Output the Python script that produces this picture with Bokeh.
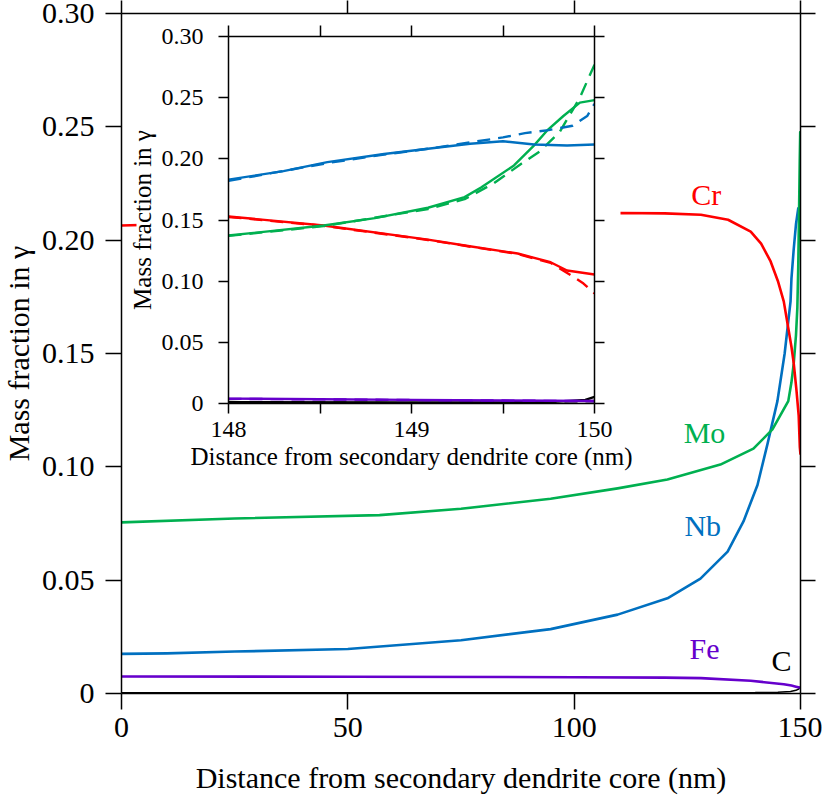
from bokeh.plotting import figure
from bokeh.models import (Range1d, LinearAxis, FixedTicker, BoxAnnotation,
                          PrintfTickFormatter, Label)
from bokeh.embed import file_html
from bokeh.resources import INLINE

FONT = "Liberation Serif"

# ---------------- main plot data (0-150 nm) ----------------
cr_x = [0, 20, 40, 60, 80, 100, 110, 120, 128, 134, 139, 141.3, 143.4, 145, 146.3, 148, 148.5, 149.1,
        149.6, 149.85, 150]
cr_y = [0.2065, 0.2075, 0.2085, 0.2095, 0.2105, 0.2115, 0.212, 0.2118, 0.2112, 0.209, 0.2038, 0.1985,
        0.1906, 0.182, 0.173, 0.153, 0.1458, 0.134, 0.1226, 0.1087, 0.1054]

mo_x = [0, 25, 57, 75, 94.8, 109.6, 120.6, 132.3, 139.6, 143.8, 147.3, 148, 148.5, 149, 149.3, 149.5,
        149.67, 149.83, 149.94, 150]
mo_y = [0.0755, 0.0772, 0.0787, 0.0815, 0.0859, 0.0905, 0.0944, 0.101, 0.108, 0.1165, 0.129, 0.1373,
        0.1455, 0.158, 0.170, 0.188, 0.211, 0.235, 0.2477, 0.248]

nb_x = [0, 10, 25, 50, 75, 94.8, 109.6, 120.6, 127.9, 133.9, 137.4, 140.5, 142.7, 144.9, 146.5, 147.8,
        148, 148.5, 149, 149.5, 149.7, 150]
nb_y = [0.0175, 0.0177, 0.0185, 0.0196, 0.0235, 0.0284, 0.0348, 0.042, 0.0507, 0.0626, 0.0759, 0.092,
        0.110, 0.129, 0.150, 0.173, 0.183, 0.196, 0.207, 0.214, 0.2117, 0.212]

fe_x = [0, 50, 100, 120, 128, 139, 146.3, 148, 149, 149.8, 150]
fe_y = [0.0075, 0.0074, 0.0072, 0.0070, 0.0068, 0.0056, 0.0041, 0.0035, 0.0030, 0.0026, 0.0025]

c_x = [0, 100, 130, 140, 145, 147.8, 149, 149.6, 150]
c_y = [0.0003, 0.0003, 0.0003, 0.0004, 0.0006, 0.0009, 0.0014, 0.0020, 0.0028]

# ---------------- inset data (148-150 nm) ----------------
i_nb_x = [148, 148.3, 148.54, 148.85, 149.09, 149.32, 149.5, 149.67, 149.85, 150]
i_nb_y = [0.183, 0.190, 0.1973, 0.204, 0.2082, 0.2123, 0.2144, 0.2117, 0.2109, 0.2117]
i_nb_dx = [148, 148.54, 148.85, 149.09, 149.32, 149.5, 149.62, 149.75, 149.88, 149.96, 150]
i_nb_dy = [0.182, 0.1965, 0.2035, 0.2082, 0.2135, 0.2175, 0.221, 0.2235, 0.227, 0.235, 0.245]

i_mo_x = [148, 148.52, 148.8, 149.09, 149.29, 149.38, 149.56, 149.67, 149.74, 149.83, 149.92, 150]
i_mo_y = [0.1373, 0.1455, 0.1515, 0.160, 0.1687, 0.1766, 0.1946, 0.211, 0.223, 0.235, 0.246, 0.248]
i_mo_dx = [148, 148.52, 149.09, 149.29, 149.45, 149.6, 149.7, 149.81, 149.92, 150]
i_mo_dy = [0.137, 0.145, 0.159, 0.167, 0.180, 0.196, 0.206, 0.222, 0.250, 0.277]

i_cr_x = [148, 148.52, 149.09, 149.3, 149.58, 149.76, 149.85, 150]
i_cr_y = [0.1529, 0.1455, 0.134, 0.129, 0.1226, 0.1155, 0.1087, 0.1054]
i_cr_dx = [148, 148.52, 149.09, 149.3, 149.58, 149.76, 149.88, 149.94, 150]
i_cr_dy = [0.1525, 0.1452, 0.1337, 0.1287, 0.1222, 0.115, 0.104, 0.098, 0.090]

i_fe_x = [148, 148.5, 149, 149.5, 150]
i_fe_y = [0.0040, 0.0035, 0.0030, 0.0025, 0.0020]
i_fe_dx = [148, 148.5, 149, 149.5, 150]
i_fe_dy = [0.0038, 0.0034, 0.0028, 0.0024, 0.0019]

i_c_x = [148, 149, 149.5, 149.8, 149.95, 150]
i_c_y = [0.0010, 0.0008, 0.0010, 0.0015, 0.0030, 0.0055]
i_c_dx = [148, 149, 149.5, 150]
i_c_dy = [0.0012, 0.0002, 0.0012, 0.0020]

x_ticks = [0, 50, 100, 150]
y_ticks = [0, 0.05, 0.10, 0.15, 0.20, 0.25, 0.30]
ix_ticks = [148, 148.5, 149, 149.5, 150]
ix_labels = {148: "148", 148.5: "", 149: "149", 149.5: "", 150: "150"}

labels = ["Cr", "Mo", "Nb", "Fe", "C"]
label_x = [129.2, 128.8, 128.4, 128.8, 145.8]
label_y = [0.2201, 0.1151, 0.0741, 0.0199, 0.0146]

RED, GREEN, BLUE, PURPLE, BLACK = "#FF0000", "#00B050", "#0070C0", "#6600CC", "#000000"
label_colors = [RED, GREEN, BLUE, PURPLE, BLACK]


def style_axis(ax, tick_size, tick_out, label_size=None):
    ax.major_tick_in = 0
    ax.major_tick_out = tick_out
    ax.minor_tick_line_color = None
    ax.axis_line_width = 1.5
    ax.major_tick_line_width = 1.5
    ax.axis_line_color = "black"
    ax.major_tick_line_color = "black"
    ax.major_label_text_font = FONT
    ax.major_label_text_color = "black"
    ax.major_label_text_font_size = tick_size
    ax.axis_label_text_font = FONT
    ax.axis_label_text_font_style = "normal"
    ax.axis_label_text_color = "black"
    if label_size:
        ax.axis_label_text_font_size = label_size


def tick_only_axis(ticks, tick_out):
    ax = LinearAxis(ticker=FixedTicker(ticks=ticks))
    style_axis(ax, "10px", tick_out)
    ax.major_label_text_color = None   # no labels drawn, no space reserved
    ax.major_label_standoff = 0
    return ax


# ---------------- main figure ----------------
SHIFT = 7   # canvas starts SHIFT px left of the window so the left border can be wider
p = figure(width=822 + SHIFT, height=801, x_range=Range1d(0, 150), y_range=Range1d(0, 0.30),
           output_backend="svg", toolbar_location=None, title_location=None,
           min_border_left=121 + SHIFT, min_border_right=22, min_border_top=13, min_border_bottom=108,
           x_axis_label="Distance from secondary dendrite core (nm)",
           y_axis_label="Mass fraction in γ")
p.outline_line_color = None
p.grid.visible = False
p.background_fill_color = "white"
p.border_fill_color = "white"
p.styles = {"position": "absolute", "left": f"-{SHIFT}px", "top": "0px"}

p.xaxis.ticker = FixedTicker(ticks=x_ticks)
p.yaxis.ticker = FixedTicker(ticks=y_ticks)
p.yaxis.formatter = PrintfTickFormatter(format="%.2f")
p.yaxis.major_label_overrides = {0: "0"}
for ax in p.xaxis:
    style_axis(ax, "30px", 16, "30px")
    ax.major_label_standoff = 8
    ax.axis_label_standoff = 21
for ax in p.yaxis:
    style_axis(ax, "30px", 16, "30px")
    ax.major_label_standoff = 11
    ax.axis_label_standoff = 4

p.add_layout(tick_only_axis(y_ticks, 15), "right")
p.add_layout(tick_only_axis(x_ticks, 13), "above")

LW = 2.6
p.line(c_x, c_y, color=BLACK, line_width=1.5)
p.line(fe_x, fe_y, color=PURPLE, line_width=LW, line_join="round")
p.line(nb_x, nb_y, color=BLUE, line_width=LW, line_join="round")
p.line(mo_x, mo_y, color=GREEN, line_width=LW, line_join="round")
p.line(cr_x, cr_y, color=RED, line_width=LW, line_join="round")

mask = BoxAnnotation(left=136 + SHIFT, right=620 + SHIFT, top=15, bottom=482,
                     left_units="canvas", right_units="canvas", top_units="canvas", bottom_units="canvas",
                     fill_color="white", fill_alpha=1.0, line_color=None)
p.add_layout(mask)

for t, lx, ly, col in zip(labels, label_x, label_y, label_colors):
    p.add_layout(Label(x=lx, y=ly, text=t, text_color=col, text_font=FONT, text_font_size="30px",
                       text_align="center", text_baseline="middle"))

# ---------------- inset figure ----------------
IN_BL, IN_BR, IN_BT, IN_BB = 142, 56, 20, 95
IN_LEFT, IN_TOP = 228 - IN_BL, 36 - IN_BT
q = figure(width=IN_BL + 366 + IN_BR, height=IN_BT + 367 + IN_BB,
           x_range=Range1d(148, 150), y_range=Range1d(0, 0.30),
           output_backend="svg", toolbar_location=None, title_location=None,
           min_border_left=IN_BL, min_border_right=IN_BR, min_border_top=IN_BT, min_border_bottom=IN_BB,
           x_axis_label="Distance from secondary dendrite core (nm)",
           y_axis_label="Mass fraction in γ")
q.outline_line_color = None
q.grid.visible = False
q.background_fill_color = "white"
q.border_fill_alpha = 0.0
q.styles = {"position": "absolute", "left": f"{IN_LEFT}px", "top": f"{IN_TOP}px", "z-index": "2"}

q.xaxis.ticker = FixedTicker(ticks=ix_ticks)
q.xaxis.major_label_overrides = ix_labels
q.yaxis.ticker = FixedTicker(ticks=y_ticks)
q.yaxis.formatter = PrintfTickFormatter(format="%.2f")
q.yaxis.major_label_overrides = {0: "0"}
for ax in q.xaxis:
    style_axis(ax, "24px", 10, "25px")
    ax.major_label_standoff = 8
    ax.axis_label_standoff = 3
for ax in q.yaxis:
    style_axis(ax, "24px", 10, "25px")
    ax.major_label_standoff = 15
    ax.axis_label_standoff = 3

q.add_layout(tick_only_axis(y_ticks, 10), "right")
q.add_layout(tick_only_axis(ix_ticks, 11), "above")

ILW = 2.4
DASH = "13 8"
q.line(i_c_x, i_c_y, color=BLACK, line_width=ILW)
q.line(i_c_dx, i_c_dy, color=BLACK, line_width=ILW, line_dash=DASH)
q.line(i_fe_x, i_fe_y, color=PURPLE, line_width=ILW)
q.line(i_fe_dx, i_fe_dy, color=PURPLE, line_width=ILW, line_dash=DASH)
q.line(i_cr_x, i_cr_y, color=RED, line_width=ILW, line_join="round")
q.line(i_cr_dx, i_cr_dy, color=RED, line_width=ILW, line_dash=DASH)
q.line(i_mo_x, i_mo_y, color=GREEN, line_width=ILW, line_join="round")
q.line(i_mo_dx, i_mo_dy, color=GREEN, line_width=ILW, line_dash=DASH)
q.line(i_nb_x, i_nb_y, color=BLUE, line_width=ILW, line_join="round")
q.line(i_nb_dx, i_nb_dy, color=BLUE, line_width=ILW, line_dash=DASH)

open("out.html", "w").write(file_html([p, q], INLINE))
